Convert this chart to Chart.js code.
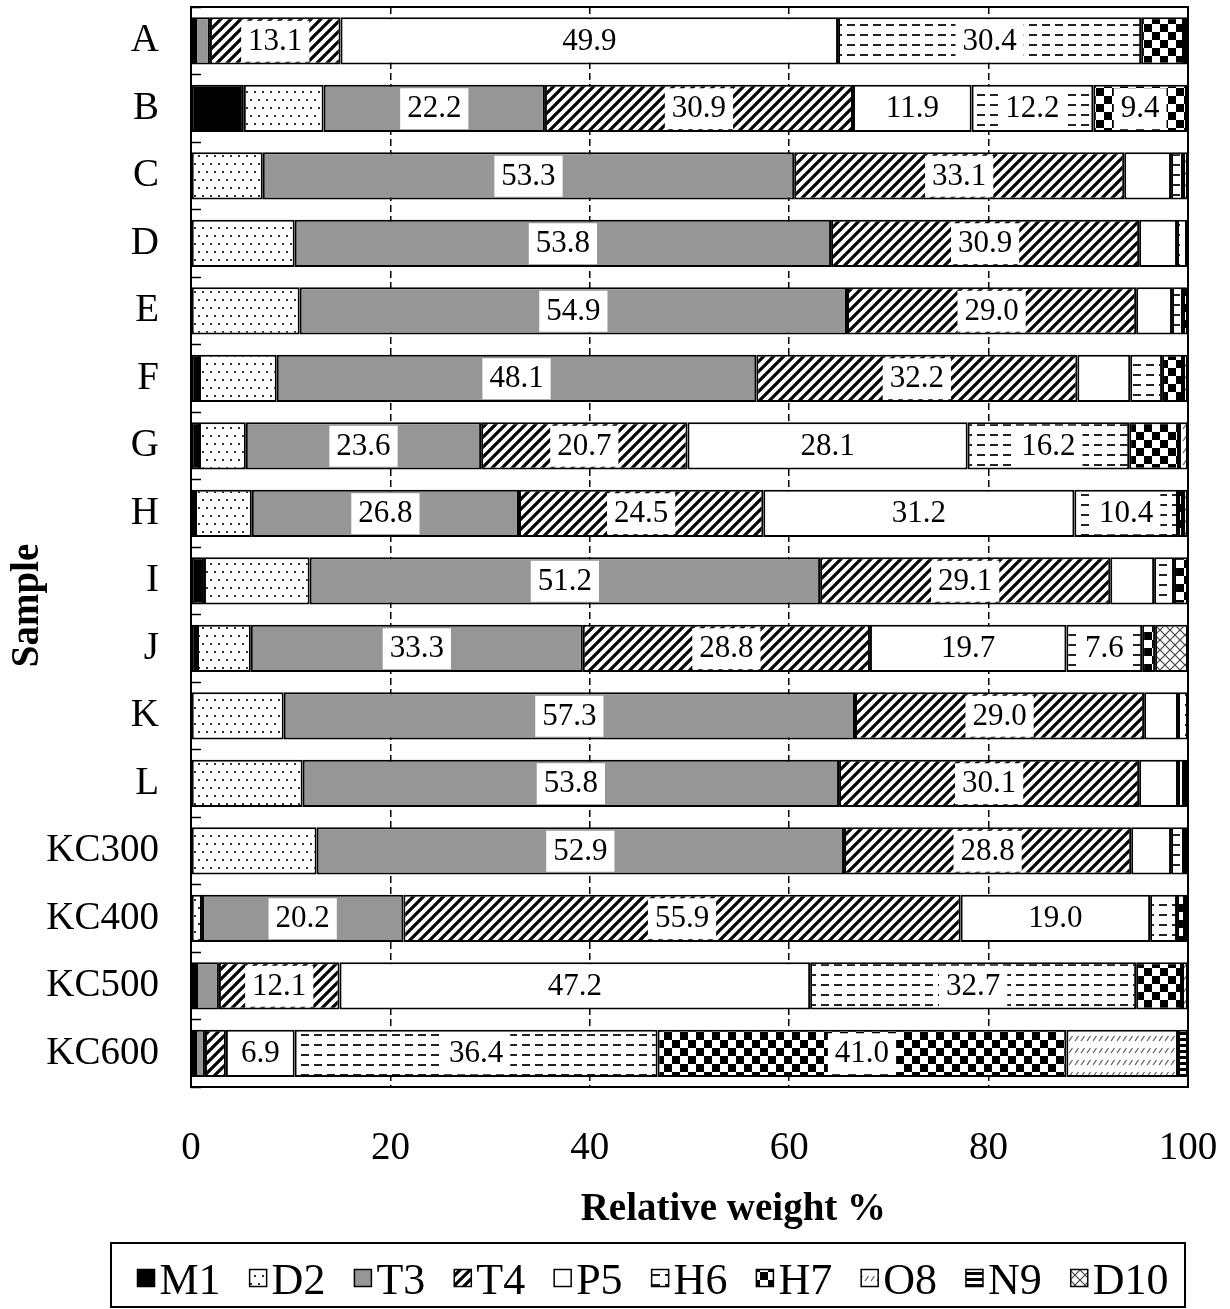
<!DOCTYPE html>
<html>
<head>
<meta charset="utf-8">
<script src="https://cdn.jsdelivr.net/npm/chart.js@4.4.0/dist/chart.umd.min.js"></script>
<style>
  html, body { margin: 0; padding: 0; background: #fff; }
  canvas { display: block; }
</style>
</head>
<body>
<canvas id="grafica" width="1230" height="1309"></canvas>
<script>
// muestras (eje y) y series
const samples = ['A', 'B', 'C', 'D', 'E', 'F', 'G', 'H', 'I', 'J', 'K', 'L', 'KC300', 'KC400', 'KC500', 'KC600'];
const M1  = [0, 5.3, 0, 0, 0, 0.8, 0.8, 0.4, 1.3, 0.6, 0, 0, 0, 0, 0.1, 0.4];
const D2  = [0.4, 8.0, 7.2, 10.4, 10.9, 7.8, 4.7, 5.7, 10.6, 5.4, 9.3, 11.2, 12.6, 1.1, 0.4, 0];
const T3  = [1.5, 22.2, 53.3, 53.8, 54.9, 48.1, 23.6, 26.8, 51.2, 33.3, 57.3, 53.8, 52.9, 20.2, 2.3, 1.0];
const T4  = [13.1, 30.9, 33.1, 30.9, 29.0, 32.2, 20.7, 24.5, 29.1, 28.8, 29.0, 30.1, 28.8, 55.9, 12.1, 2.1];
const P5  = [49.9, 11.9, 4.7, 3.8, 3.6, 5.3, 28.1, 31.2, 4.4, 19.7, 3.4, 3.9, 4.0, 19.0, 47.2, 6.9];
const H6  = [30.4, 12.2, 1.2, 1.0, 1.1, 3.2, 16.2, 10.4, 2.0, 7.6, 1.0, 0.6, 1.3, 2.7, 32.7, 36.4];
const H7  = [4.3, 9.4, 0, 0.1, 0.5, 2.1, 5.0, 0.5, 1.4, 1.3, 0, 0.4, 0.4, 0.8, 4.6, 41.0];
const O8  = [0.4, 0.1, 0.5, 0, 0, 0.5, 0.9, 0.5, 0, 0, 0, 0, 0, 0.3, 0.6, 11.2];
const N9  = [0, 0, 0, 0, 0, 0, 0, 0, 0, 0, 0, 0, 0, 0, 0, 1.0];
const D10 = [0, 0, 0, 0, 0, 0, 0, 0, 0, 3.3, 0, 0, 0, 0, 0, 0];
const xTicks = [0, 20, 40, 60, 80, 100];
const conEtiqueta = ['T3', 'T4', 'P5', 'H6', 'H7'];

const canvas = document.getElementById('grafica');
const ctx = canvas.getContext('2d');
const fuente = '"Liberation Serif", "Times New Roman", serif';
const nb = n => '\u00a0'.repeat(n); // espacios para descentrar los titulos como en el original

// tramas para las barras
function trama(w, h, dibujar) {
  const c = document.createElement('canvas');
  c.width = w; c.height = h;
  const g = c.getContext('2d');
  g.fillStyle = '#fff';
  g.fillRect(0, 0, w, h);
  dibujar(g);
  return ctx.createPattern(c, 'repeat');
}

const puntos = trama(8, 16, g => {
  g.fillStyle = '#333';
  g.fillRect(2, 3, 2, 2);
  g.fillRect(6, 11, 2, 2);
});
const rayado = trama(10, 10, g => {
  g.strokeStyle = '#000';
  g.lineWidth = 3.2;
  g.beginPath();
  g.moveTo(-5, 5); g.lineTo(5, -5);
  g.moveTo(0, 10); g.lineTo(10, 0);
  g.moveTo(5, 15); g.lineTo(15, 5);
  g.stroke();
});
const guiones = trama(13, 10, g => {
  g.fillStyle = '#222';
  g.fillRect(2, 4, 8, 2);
});
const cuadros = trama(16, 16, g => {
  g.fillStyle = '#000';
  g.fillRect(0, 0, 8, 8);
  g.fillRect(8, 8, 8, 8);
});
const trazos = trama(6, 12, g => {
  g.strokeStyle = '#555';
  g.lineWidth = 1.2;
  g.beginPath();
  g.moveTo(1, 9); g.lineTo(4.5, 4);
  g.stroke();
});
const franjas = trama(6, 6, g => {
  g.fillStyle = '#000';
  g.fillRect(0, 0, 6, 3);
});
const malla = trama(10, 10, g => {
  g.strokeStyle = '#444';
  g.lineWidth = 1.2;
  g.beginPath();
  g.moveTo(0, 0); g.lineTo(10, 10);
  g.moveTo(10, 0); g.lineTo(0, 10);
  g.stroke();
});

const series = [
  ['M1', M1, '#000'],
  ['D2', D2, puntos],
  ['T3', T3, '#969696'],
  ['T4', T4, rayado],
  ['P5', P5, '#fff'],
  ['H6', H6, guiones],
  ['H7', H7, cuadros],
  ['O8', O8, trazos],
  ['N9', N9, franjas],
  ['D10', D10, malla]
];

// etiquetas blancas con el valor y marco del area
const etiquetas = {
  id: 'etiquetas',
  afterDatasetsDraw(chart) {
    const c = chart.ctx;
    c.save();
    c.font = '31px ' + fuente;
    c.textAlign = 'center';
    c.textBaseline = 'middle';
    chart.data.datasets.forEach((ds, i) => {
      if (!conEtiqueta.includes(ds.label)) return;
      chart.getDatasetMeta(i).data.forEach((bar, j) => {
        const v = ds.data[j];
        if (v == null || v < 6) return;
        const cx = (bar.x + bar.base) / 2;
        const txt = v.toFixed(1);
        const w = c.measureText(txt).width + 14;
        c.fillStyle = '#fff';
        c.fillRect(cx - w / 2, bar.y - 20, w, 41);
        c.fillStyle = '#000';
        c.fillText(txt, cx, bar.y + 1);
      });
    });
    const a = chart.chartArea;
    c.strokeStyle = '#000';
    c.lineWidth = 2;
    c.strokeRect(a.left, a.top, a.right - a.left, a.bottom - a.top);
    c.restore();
  }
};

// leyenda con recuadro, a partir de los datasets
const leyenda = {
  id: 'leyenda',
  afterDraw(chart) {
    const c = chart.ctx;
    c.save();
    c.font = '44px ' + fuente;
    const items = chart.data.datasets.map(ds => ({
      txt: ds.label,
      fondo: ds.backgroundColor,
      w: c.measureText(ds.label).width
    }));
    const caja = 17, hueco = 5, sep = 29;
    const total = items.reduce((s, it) => s + caja + hueco + it.w, 0) + sep * (items.length - 1);
    let x = 653 - total / 2;
    const yc = 1278;
    c.textBaseline = 'alphabetic';
    items.forEach(it => {
      c.fillStyle = it.fondo;
      c.fillRect(x, yc - caja / 2, caja, caja);
      c.strokeStyle = '#000';
      c.lineWidth = 1.5;
      c.strokeRect(x, yc - caja / 2, caja, caja);
      c.fillStyle = '#000';
      c.fillText(it.txt, x + caja + hueco, 1294);
      x += caja + hueco + it.w + sep;
    });
    c.lineWidth = 2;
    c.strokeRect(111, 1243, 1074, 64);
    c.restore();
  }
};

new Chart(ctx, {
  type: 'bar',
  data: {
    labels: samples,
    datasets: series.map(([nombre, valores, fondo]) => ({
      label: nombre,
      data: valores.map(v => (v > 0 ? v : null)),
      backgroundColor: fondo,
      borderColor: '#000',
      borderWidth: 2,
      borderSkipped: false,
      barPercentage: 0.7,
      categoryPercentage: 1
    }))
  },
  options: {
    indexAxis: 'y',
    responsive: false,
    animation: false,
    devicePixelRatio: 1,
    layout: { padding: { left: 0, right: 42, top: 7, bottom: 66 } },
    scales: {
      x: {
        stacked: true,
        min: 0,
        max: 100,
        afterBuildTicks: s => { s.ticks = xTicks.map(v => ({ value: v })); },
        afterFit: s => { s.height = 156; s.paddingLeft = 0; s.paddingRight = 0; },
        border: { display: false, dash: [7, 4] },
        grid: {
          color: c => (c.tick && (c.tick.value === 0 || c.tick.value === 100) ? 'rgba(0,0,0,0)' : '#000'),
          lineWidth: 1.5,
          drawTicks: false
        },
        ticks: { color: '#000', padding: 38, font: { family: fuente, size: 39 } },
        title: {
          display: true,
          text: nb(9) + 'Relative weight %',
          color: '#000',
          padding: { top: 0, bottom: 10 },
          font: { family: fuente, size: 39, weight: 'bold' }
        }
      },
      y: {
        stacked: true,
        afterFit: s => { s.width = 191; s.paddingTop = 0; s.paddingBottom = 0; },
        border: { display: false },
        grid: {
          offset: true,
          drawOnChartArea: false,
          drawTicks: true,
          tickLength: -10,
          tickColor: '#000',
          tickWidth: 1.5
        },
        ticks: { color: '#000', padding: 42, font: { family: fuente, size: 39 } },
        title: {
          display: true,
          text: 'Sample' + nb(12),
          color: '#000',
          padding: { top: 5, bottom: 0 },
          font: { family: fuente, size: 39, weight: 'bold' }
        }
      }
    },
    plugins: {
      legend: { display: false },
      tooltip: { enabled: false }
    }
  },
  plugins: [etiquetas, leyenda]
});
</script>
</body>
</html>
